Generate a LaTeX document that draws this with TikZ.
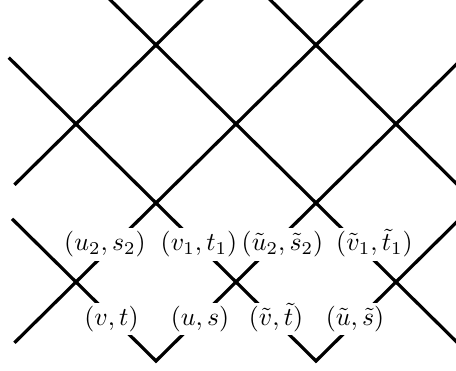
\documentclass[tikz,border=0pt]{standalone}
\usepackage{amsmath}
\begin{document}
\begin{tikzpicture}[x={(31.008pt,0)}, y={(0,-30.62pt)},
  strand/.style={line width=1.25pt, black},
  lbl/.style={fill=white, inner xsep=0.2pt, inner ysep=1.3pt, text height=7.5pt, text depth=2.5pt, anchor=base, font=\normalsize}]
\useasboundingbox (-0.95,-1.5696) rectangle (4.75,3.1266);
\clip (-0.95,-1.5696) rectangle (4.75,3.1266);
% named points
\coordinate (a0) at (-0.84,-0.84);
\coordinate (v2) at (3,3);
\coordinate (h1) at (5,1);
\coordinate (d0) at (-0.8,1.2);
\coordinate (v1) at (1,3);
\coordinate (g1) at (5,-1);
\coordinate (b0) at (0,-2);
\coordinate (b1) at (5,3);
\coordinate (c0) at (2,-2);
\coordinate (c1) at (5,1);
\coordinate (e0) at (-0.77,0.77);
\coordinate (e1) at (2,-2);
\coordinate (f0) at (-0.77,2.77);
\coordinate (f1) at (4,-2);
% strands
\draw[strand] (a0) -- (v2) -- (h1);
\draw[strand] (d0) -- (v1) -- (g1);
\draw[strand] (b0) -- (b1);
\draw[strand] (c0) -- (c1);
\draw[strand] (e0) -- (e1);
\draw[strand] (f0) -- (f1);
% labels
\node[lbl] (l1) at (0.3625,1.605) {$(u_2,s_2)$};
\node[lbl] (l2) at (1.5375,1.605) {$(v_1,t_1)$};
\node[lbl] (l3) at (2.5813,1.605) {$(\tilde{u}_2,\tilde{s}_2)$};
\node[lbl] (l4) at (3.7313,1.605) {$(\tilde{v}_1,\tilde{t}_1)$};
\node[lbl] (l5) at (0.4438,2.551) {$(v,t)$};
\node[lbl] (l6) at (1.55,2.551) {$(u,s)$};
\node[lbl] (l7) at (2.5,2.551) {$(\tilde{v},\tilde{t})$};
\node[lbl] (l8) at (3.4875,2.551) {$(\tilde{u},\tilde{s})$};
\end{tikzpicture}
\end{document}
